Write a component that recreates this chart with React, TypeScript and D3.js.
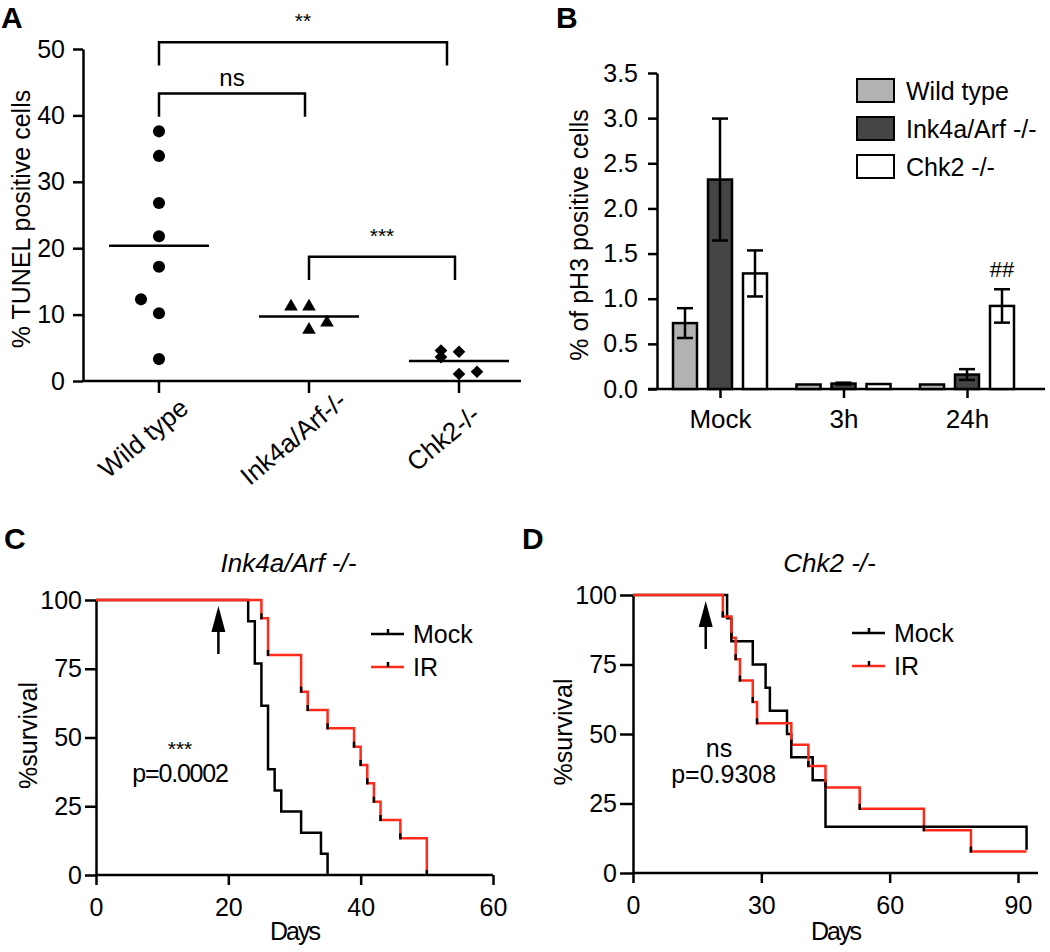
import React, { useEffect, useRef } from 'react'
import * as d3 from 'd3'

const FONT = '"Liberation Sans", Arial, Helvetica, sans-serif'

// ---- panel A: TUNEL dot plot
const tunelGroups = ['Wild type', 'Ink4a/Arf-/-', 'Chk2-/-']
const tunelWildType = [37.6, 33.9, 26.8, 21.8, 17.2, 12.3, 10.2, 3.3]
const tunelWildTypeCol = [0, 0, 0, 0, 0, -1, 0, 0]
const tunelInk4a = [11.2, 11.2, 8.8, 7.7]
const tunelInk4aCol = [-1, 0, 1, 0]
const tunelChk2 = [4.6, 4.4, 3.6, 1.05, 1.4]
const tunelChk2Col = [-1, 0, -1, 0, 1]
const tunelTicks = [0, 10, 20, 30, 40, 50]
const tunelBrackets = [
  { from: 0, to: 2, level: 51, label: '**' },
  { from: 0, to: 1, level: 43.3, label: 'ns' },
  { from: 1, to: 2, level: 18.7, label: '***' },
]

// ---- panel B: pH3 bars
const ph3Times = ['Mock', '3h', '24h']
const ph3Genotypes = ['Wild type', 'Ink4a/Arf -/-', 'Chk2 -/-']
const ph3Colors = ['#b2b2b2', '#444444', '#ffffff']
const ph3WildType = [0.73, 0.05, 0.05]
const ph3WildTypeErr = [0.165, 0, 0]
const ph3Ink4a = [2.32, 0.06, 0.16]
const ph3Ink4aErr = [0.675, 0.01, 0.06]
const ph3Chk2 = [1.28, 0.055, 0.92]
const ph3Chk2Err = [0.255, 0, 0.185]
const ph3Ticks = [0, 0.5, 1, 1.5, 2, 2.5, 3, 3.5]

// ---- panel C / D: survival (death days)
const survTicks = [0, 25, 50, 75, 100]
const ink4aMockDeaths = [23, 24, 24, 25, 25, 26, 26, 26, 27, 28, 31, 34, 35]
const ink4aMockN = 13
const ink4aIrDeaths = [25, 26, 26, 31, 31, 32, 35, 39, 40, 41, 42, 43, 46, 50, 50]
const ink4aIrN = 15
const ink4aDayTicks = [0, 20, 40, 60]
const chk2MockDeaths = [22, 23, 28, 31, 32, 36, 37, 42, 45, 45, 92]
const chk2MockN = 12
const chk2IrDeaths = [21, 23, 24, 25, 28, 29, 37, 41, 45, 53, 68, 79]
const chk2IrN = 13
const chk2EndDay = 92
const chk2DayTicks = [0, 30, 60, 90]

const LW = 2.5

function kmPoints(deaths: number[], n: number, end: number) {
  const counts = d3.rollup(deaths, (v) => v.length, (d) => d)
  const times = Array.from(counts.keys()).sort((a, b) => a - b)
  let alive = n
  const pts: [number, number][] = [[0, 100]]
  times.forEach((t) => {
    alive -= counts.get(t) as number
    pts.push([t, (alive / n) * 100])
  })
  const last = pts[pts.length - 1]
  if (end > last[0]) pts.push([end, last[1]])
  return pts
}

function styleAxis(g: any, fontSize = 25) {
  g.attr('font-size', fontSize).attr('font-family', FONT)
  g.select('.domain').attr('stroke', '#000').attr('stroke-width', LW)
  g.selectAll('.tick line').attr('stroke', '#000').attr('stroke-width', LW)
  g.selectAll('.tick text').attr('fill', '#000')
}

export default function App() {
  const ref = useRef<SVGSVGElement>(null)

  useEffect(() => {
    const svg = d3.select(ref.current)
    svg.selectAll('*').remove()

    const letter = (t: string, x: number, y: number) =>
      svg.append('text').attr('x', x).attr('y', y).text(t)
        .attr('font-family', FONT).attr('font-weight', 'bold').attr('font-size', 30)
    letter('A', 1, 28)
    letter('B', 556, 28)
    letter('C', 4, 549)
    letter('D', 522, 549)

    // ================= A
    const yA = d3.scaleLinear().domain([0, 50]).range([381, 49])
    const xA = d3.scalePoint().domain(tunelGroups).range([159, 459])
    const jitter = 18
    const gA = svg.append('g')
    gA.append('g').attr('transform', 'translate(83,0)')
      .call(d3.axisLeft(yA).tickValues(tunelTicks).tickSize(10).tickPadding(8).tickSizeOuter(0))
      .call(styleAxis)
    gA.append('line').attr('x1', 83).attr('x2', 521).attr('y1', yA(0)).attr('y2', yA(0))
      .attr('stroke', '#000').attr('stroke-width', LW)
    tunelGroups.forEach((c) => {
      gA.append('line').attr('x1', xA(c)!).attr('x2', xA(c)!).attr('y1', yA(0)).attr('y2', yA(0) + 12)
        .attr('stroke', '#000').attr('stroke-width', LW)
      gA.append('text').text(c)
        .attr('transform', `translate(${xA(c)! - 10},${yA(0) + 64}) rotate(-40)`)
        .attr('text-anchor', 'middle').attr('font-size', 26).attr('font-family', FONT)
    })
    gA.append('text').text('% TUNEL positive cells')
      .attr('transform', `translate(30,${(yA(0) + yA(50)) / 2 + 4}) rotate(-90)`)
      .attr('text-anchor', 'middle').attr('font-size', 25).attr('font-family', FONT)

    const tunelSets = [
      { vals: tunelWildType, cols: tunelWildTypeCol, sym: d3.symbolCircle, size: 115, rot: 0 },
      { vals: tunelInk4a, cols: tunelInk4aCol, sym: d3.symbolTriangle, size: 80, rot: 0 },
      { vals: tunelChk2, cols: tunelChk2Col, sym: d3.symbolSquare, size: 80, rot: 45 },
    ]
    tunelSets.forEach((s, i) => {
      const cx = xA(tunelGroups[i])!
      const mean = d3.mean(s.vals) as number
      gA.append('line').attr('x1', cx - 50).attr('x2', cx + 50).attr('y1', yA(mean)).attr('y2', yA(mean))
        .attr('stroke', '#000').attr('stroke-width', LW)
      s.vals.forEach((v, j) => {
        gA.append('path').attr('d', d3.symbol(s.sym, s.size)()!)
          .attr('transform', `translate(${cx + s.cols[j] * jitter},${yA(v)}) rotate(${s.rot})`)
          .attr('fill', '#000')
      })
    })
    const drop = 3.5
    tunelBrackets.forEach((b) => {
      const x1 = xA(tunelGroups[b.from])!
      const x2 = xA(tunelGroups[b.to])! - (b.to - b.from > 1 ? 12 : 4)
      gA.append('path')
        .attr('d', `M${x1},${yA(b.level - drop)}V${yA(b.level)}H${x2}V${yA(b.level - drop)}`)
        .attr('fill', 'none').attr('stroke', '#000').attr('stroke-width', LW)
      const isStar = b.label !== 'ns'
      gA.append('text').text(b.label)
        .attr('x', (x1 + x2) / 2).attr('y', yA(b.level) - (isStar ? 14 : 7))
        .attr('text-anchor', 'middle').attr('font-size', isStar ? 21 : 24).attr('font-family', FONT)
    })

    // ================= B
    const yB = d3.scaleLinear().domain([0, 3.5]).range([389, 73])
    const xB = d3.scalePoint().domain(ph3Times).range([720, 967])
    const barOff = 35
    const barW = 24
    const gB = svg.append('g')
    gB.append('g').attr('transform', 'translate(657,0)')
      .call(d3.axisLeft(yB).tickValues(ph3Ticks).tickFormat(d3.format('.1f')).tickSize(9).tickPadding(10).tickSizeOuter(0))
      .call(styleAxis)
    gB.append('g').attr('transform', `translate(0,${yB(0)})`)
      .call(d3.axisBottom(xB).tickSize(9).tickPadding(12).tickSizeOuter(0))
      .call((g: any) => styleAxis(g, 26))
      .call((g: any) => g.select('.domain').remove())
    gB.append('line').attr('x1', 648).attr('x2', 1045).attr('y1', yB(0)).attr('y2', yB(0))
      .attr('stroke', '#000').attr('stroke-width', LW)
    gB.append('text').text('% of pH3 positive cells')
      .attr('transform', `translate(588,${(yB(0) + yB(3.5)) / 2 + 4}) rotate(-90)`)
      .attr('text-anchor', 'middle').attr('font-size', 25).attr('font-family', FONT)

    const ph3Sets = [
      { vals: ph3WildType, errs: ph3WildTypeErr },
      { vals: ph3Ink4a, errs: ph3Ink4aErr },
      { vals: ph3Chk2, errs: ph3Chk2Err },
    ]
    ph3Sets.forEach((s, i) => {
      ph3Times.forEach((t, k) => {
        const cx = xB(t)! + (i - 1) * barOff
        const v = s.vals[k]
        const e = s.errs[k]
        gB.append('rect').attr('x', cx - barW / 2).attr('width', barW)
          .attr('y', yB(v)).attr('height', yB(0) - yB(v))
          .attr('fill', ph3Colors[i]).attr('stroke', '#000').attr('stroke-width', LW)
        if (e > 0) {
          const eb = gB.append('g').attr('stroke', '#000').attr('stroke-width', LW)
          eb.append('line').attr('x1', cx).attr('x2', cx).attr('y1', yB(v + e)).attr('y2', yB(v - e))
          eb.append('line').attr('x1', cx - 8).attr('x2', cx + 8).attr('y1', yB(v + e)).attr('y2', yB(v + e))
          eb.append('line').attr('x1', cx - 8).attr('x2', cx + 8).attr('y1', yB(v - e)).attr('y2', yB(v - e))
        }
      })
    })
    const hashX = xB('24h')! + barOff
    gB.append('text').text('##').attr('x', hashX).attr('y', yB(ph3Chk2[2] + ph3Chk2Err[2]) - 12)
      .attr('text-anchor', 'middle').attr('font-size', 22).attr('font-family', FONT)
    ph3Genotypes.forEach((gname, i) => {
      const y = 79 + i * 38
      gB.append('rect').attr('x', 857).attr('y', y).attr('width', 37).attr('height', 23)
        .attr('fill', ph3Colors[i]).attr('stroke', '#000').attr('stroke-width', 2)
      gB.append('text').text(gname).attr('x', 906).attr('y', y + 21)
        .attr('font-size', 25).attr('font-family', FONT)
    })

    // ================= C / D survival
    const drawSurvival = (opts: any) => {
      const { xDom, xRange, axisEnd, yRange, dayTicks, mock, ir, title, arrowDay, star, pText, starPos, pPos, ylabX } = opts
      const x = d3.scaleLinear().domain(xDom).range(xRange)
      const y = d3.scaleLinear().domain([0, 100]).range(yRange)
      const g = svg.append('g')
      g.append('g').attr('transform', `translate(${xRange[0]},0)`)
        .call(d3.axisLeft(y).tickValues(survTicks).tickSize(opts.yTick).tickPadding(3).tickSizeOuter(0))
        .call(styleAxis)
      g.append('g').attr('transform', `translate(0,${y(0)})`)
        .call(d3.axisBottom(x).tickValues(dayTicks).tickSize(10).tickPadding(13).tickSizeOuter(0))
        .call(styleAxis)
        .call((gg: any) => gg.select('.domain').remove())
      g.append('line').attr('x1', xRange[0]).attr('x2', axisEnd).attr('y1', y(0)).attr('y2', y(0))
        .attr('stroke', '#000').attr('stroke-width', LW)
      g.append('text').text('Days').attr('x', (xRange[0] + axisEnd) / 2).attr('y', 940)
        .attr('text-anchor', 'middle').attr('font-size', 25).attr('letter-spacing', -2).attr('font-family', FONT)
      g.append('text').text('%survival')
        .attr('transform', `translate(${ylabX},${(y(0) + y(100)) / 2 - 2}) rotate(-90)`)
        .attr('text-anchor', 'middle').attr('font-size', 25).attr('font-family', FONT)
      g.append('text').text(title).attr('x', (xRange[0] + axisEnd) / 2 - 6).attr('y', 572)
        .attr('text-anchor', 'middle').attr('font-size', 26).attr('font-style', 'italic').attr('font-family', FONT)

      const line = d3.line<[number, number]>().x((d) => x(d[0])).y((d) => y(d[1])).curve(d3.curveStepAfter)
      const mockPts = kmPoints(mock.deaths, mock.n, mock.end)
      const irPts = kmPoints(ir.deaths, ir.n, ir.end)
      g.append('path').attr('d', line(mockPts)!).attr('fill', 'none').attr('stroke', '#000').attr('stroke-width', LW)
      g.append('path').attr('d', line(irPts)!).attr('fill', 'none').attr('stroke', '#ff2a1a').attr('stroke-width', LW)
      irPts.slice(1).forEach((p, i) => {
        if (p[1] === irPts[i][1]) return
        g.append('line').attr('x1', x(p[0])).attr('x2', x(p[0])).attr('y1', y(p[1]) - 5).attr('y2', y(p[1]) + 1)
          .attr('stroke', '#000').attr('stroke-width', LW)
      })

      // irradiation arrow
      const ax = x(arrowDay)
      const tip = y(100) + 6
      g.append('line').attr('x1', ax).attr('x2', ax).attr('y1', tip + 20).attr('y2', tip + 48)
        .attr('stroke', '#000').attr('stroke-width', LW)
      g.append('path').attr('d', `M${ax},${tip}L${ax - 7},${tip + 26}L${ax + 7},${tip + 26}Z`).attr('fill', '#000')

      // legend
      const lx = opts.legendX
      ;[{ name: 'Mock', color: '#000' }, { name: 'IR', color: '#ff2a1a' }].forEach((s, i) => {
        const ly = opts.legendY + i * 33
        g.append('line').attr('x1', lx).attr('x2', lx + 33).attr('y1', ly).attr('y2', ly)
          .attr('stroke', s.color).attr('stroke-width', LW)
        g.append('line').attr('x1', lx + 17).attr('x2', lx + 17).attr('y1', ly - 5).attr('y2', ly)
          .attr('stroke', '#000').attr('stroke-width', LW)
        g.append('text').text(s.name).attr('x', lx + 42).attr('y', ly + 9)
          .attr('font-size', 25).attr('font-family', FONT)
      })

      g.append('text').text(star).attr('x', x(starPos[0])).attr('y', y(starPos[1]))
        .attr('text-anchor', 'middle').attr('font-size', star === 'ns' ? 25 : 21).attr('font-family', FONT)
      g.append('text').text(pText).attr('x', x(pPos[0])).attr('y', y(pPos[1]))
        .attr('text-anchor', 'middle').attr('font-size', 25).attr('letter-spacing', opts.pSpacing).attr('font-family', FONT)
    }

    drawSurvival({
      xDom: [0, 60], xRange: [96, 493], axisEnd: 493, yRange: [875, 600], yTick: 11,
      dayTicks: ink4aDayTicks, title: 'Ink4a/Arf -/-', arrowDay: 18.5, ylabX: 37,
      mock: { deaths: ink4aMockDeaths, n: ink4aMockN, end: 0 },
      ir: { deaths: ink4aIrDeaths, n: ink4aIrN, end: 0 },
      star: '***', pText: 'p=0.0002', starPos: [12.7, 43.2], pPos: [12.7, 33.8], pSpacing: -1.2,
      legendX: 371, legendY: 634,
    })
    drawSurvival({
      xDom: [0, 90], xRange: [633, 1018], axisEnd: 1038, yRange: [873, 595], yTick: 13,
      dayTicks: chk2DayTicks, title: 'Chk2 -/-', arrowDay: 17, ylabX: 572,
      mock: { deaths: chk2MockDeaths, n: chk2MockN, end: chk2EndDay },
      ir: { deaths: chk2IrDeaths, n: chk2IrN, end: chk2EndDay },
      star: 'ns', pText: 'p=0.9308', starPos: [20.1, 41.7], pPos: [21.2, 32.4], pSpacing: 0,
      legendX: 852, legendY: 633,
    })
  }, [])

  return (
    <svg ref={ref} width={1050} height={952} style={{ position: 'absolute', left: 0, top: 0, background: '#fff' }} />
  )
}
